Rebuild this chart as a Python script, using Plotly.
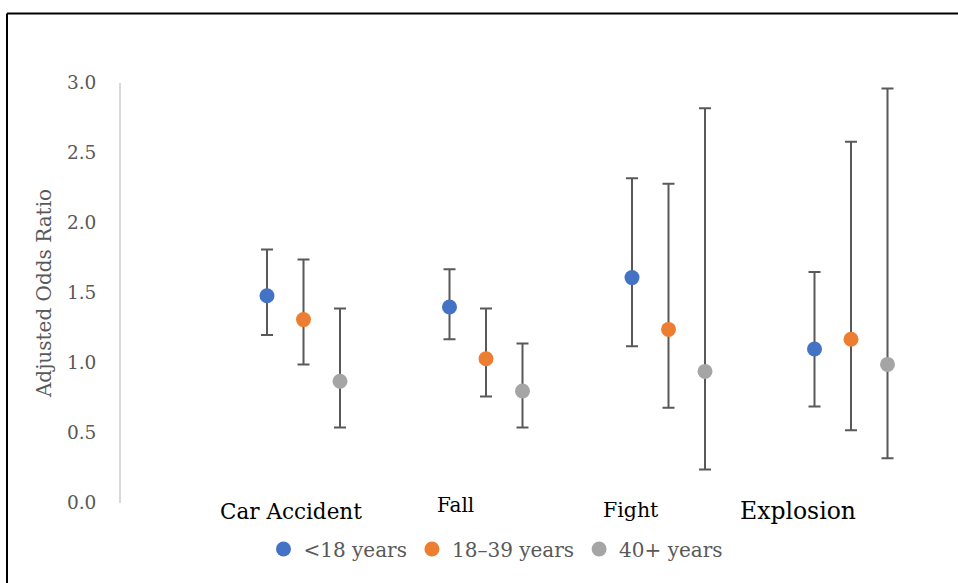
import plotly.graph_objects as go

categories = ["Car Accident", "Fall", "Fight", "Explosion"]
series_names = ["<18 years", "18–39 years", "40+ years"]
colors = ["#4472C4", "#ED7D31", "#A5A5A5"]

or_lt18 = [1.48, 1.40, 1.61, 1.10]
lo_lt18 = [1.20, 1.17, 1.12, 0.69]
hi_lt18 = [1.81, 1.67, 2.32, 1.65]

or_18_39 = [1.31, 1.03, 1.24, 1.17]
lo_18_39 = [0.99, 0.76, 0.68, 0.52]
hi_18_39 = [1.74, 1.39, 2.28, 2.58]

or_40p = [0.87, 0.80, 0.94, 0.99]
lo_40p = [0.54, 0.54, 0.24, 0.32]
hi_40p = [1.39, 1.14, 2.82, 2.96]

y_ticks = [0.0, 0.5, 1.0, 1.5, 2.0, 2.5, 3.0]

series = [(or_lt18, lo_lt18, hi_lt18), (or_18_39, lo_18_39, hi_18_39), (or_40p, lo_40p, hi_40p)]
offsets = [-0.2, 0.0, 0.2]

FONT = "DejaVu Serif"
L, R, T, B = 121, 18, 83, 80
W = 958 - L - R
H = 583 - T - B
def px(x):
    return (x - L) / W
def py(y):
    return (583 - B - y) / H

fig = go.Figure()
for name, color, off, (v, lo, hi) in zip(series_names, colors, offsets, series):
    xs = [i + 1 + off for i in range(len(categories))]
    fig.add_trace(go.Scatter(
        x=xs, y=v, mode="markers", name=name,
        marker=dict(color=color, size=15),
        error_y=dict(type="data", symmetric=False,
                     array=[h - m for h, m in zip(hi, v)],
                     arrayminus=[m - l for m, l in zip(v, lo)],
                     color="#595959", thickness=2, width=6),
        cliponaxis=False,
    ))

# category labels (placed as text boxes like the original)
lab_pos = [(290.5, 511, 21.5), (455, 505, 20), (630.5, 510, 20.5), (797.5, 511, 23.5)]
for c, (x, y, s) in zip(categories, lab_pos):
    fig.add_annotation(x=px(x), y=py(y), xref="paper", yref="paper", text=c, showarrow=False,
                       font=dict(family=FONT, size=s, color="black"), yanchor="middle", xanchor="center")

fig.add_shape(type="line", xref="paper", yref="paper", x0=px(7), x1=px(970), y0=py(13.5), y1=py(13.5),
              line=dict(color="black", width=2))
fig.add_shape(type="line", xref="paper", yref="paper", x0=px(7), x1=px(7), y0=py(13.5), y1=py(600),
              line=dict(color="black", width=2))

fig.update_layout(
    width=958, height=583,
    margin=dict(l=L, r=R, t=T, b=B),
    paper_bgcolor="white", plot_bgcolor="white",
    font=dict(family=FONT, color="#595959"),
    showlegend=True,
    legend=dict(orientation="h", x=px(496), xanchor="center", y=py(549), yanchor="middle",
                font=dict(family=FONT, size=20, color="#595959"), itemwidth=30,
                bgcolor="rgba(0,0,0,0)"),
    xaxis=dict(range=[0, W / 182.5], showticklabels=False, showgrid=False, zeroline=False,
               showline=False, ticks=""),
    yaxis=dict(range=[0, 3], tickvals=y_ticks, ticktext=[f"{t:.1f}" for t in y_ticks],
               showgrid=False, zeroline=False, showline=True, linecolor="#D9D9D9", linewidth=2,
               ticks="", ticklabelstandoff=19,
               tickfont=dict(family=FONT, size=18.5, color="#595959"),
               title=dict(text="Adjusted Odds Ratio", font=dict(family=FONT, size=20, color="#595959"),
                          standoff=10)),
)

fig.write_html("out.html", config={"displayModeBar": False},
               post_script="document.body.style.margin='0';")
